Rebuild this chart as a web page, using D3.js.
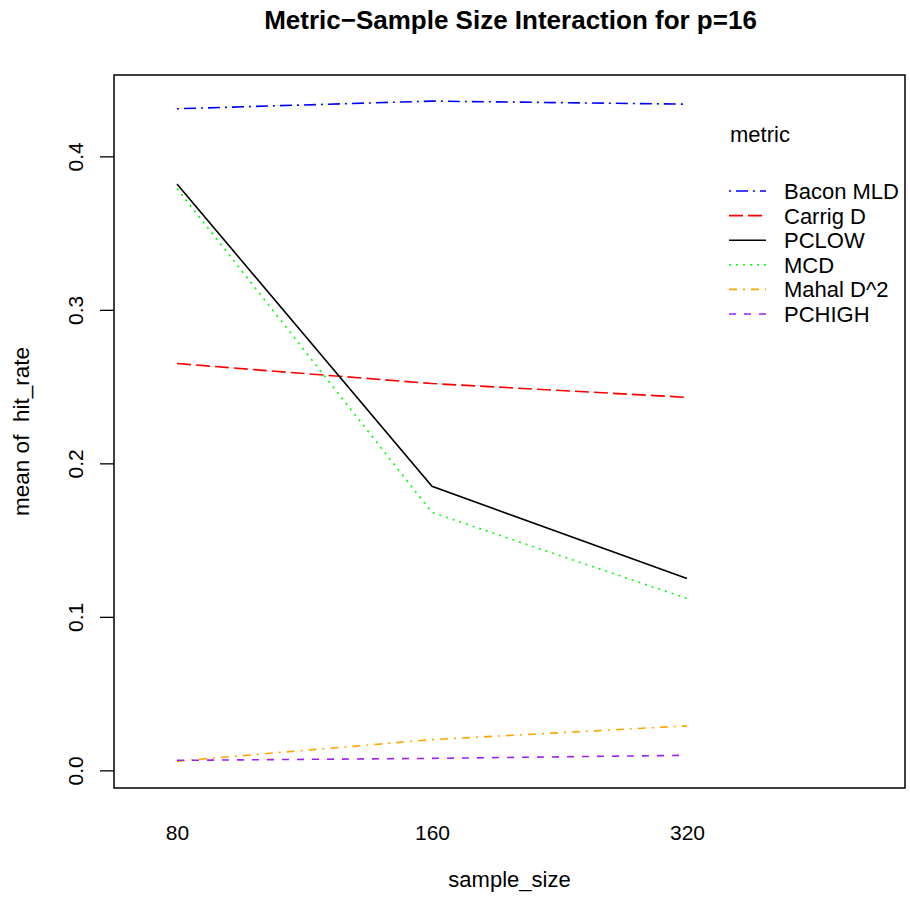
<!DOCTYPE html>
<html>
<head>
<meta charset="utf-8">
<script src="https://d3js.org/d3.v7.min.js"></script>
<style>
  body { margin: 0; background: #fff; }
  svg { display: block; font-family: "Liberation Sans", Arial, Helvetica, sans-serif; }
</style>
</head>
<body>
<svg id="chart" width="910" height="899"></svg>
<script>
// ---- data ----
const sampleSizes = ["80", "160", "320"];
const metrics = ["Bacon MLD", "Carrig D", "PCLOW", "MCD", "Mahal D^2", "PCHIGH"];
const baconMLD = [0.431, 0.436, 0.434];
const carrigD  = [0.265, 0.252, 0.243];
const pcLow    = [0.382, 0.185, 0.125];
const mcd      = [0.379, 0.168, 0.112];
const mahalD2  = [0.006, 0.020, 0.029];
const pcHigh   = [0.0065, 0.0078, 0.0098];
const yTicks   = [0.0, 0.1, 0.2, 0.3, 0.4];
const seriesValues = [baconMLD, carrigD, pcLow, mcd, mahalD2, pcHigh];
const colors = ["#0000FF", "#FF0000", "#000000", "#00FF00", "#FFA500", "#A020F0"];
const dashes = ["2,5,12,5", "14,5", null, "2,5", "8,6,2,6", "7,8"];

// ---- layout ----
const box = { left: 114, right: 905, top: 75, bottom: 788 };
const svg = d3.select("#chart");

const x = d3.scaleLinear().domain([0.753, 3.855]).range([box.left, box.right]);
const y = d3.scaleLinear().domain([-0.0115, 0.453]).range([box.bottom, box.top]);

// lines
const line = d3.line().x((d, i) => x(i + 1)).y(d => y(d));
const g = svg.append("g");
seriesValues.forEach((vals, k) => {
  g.append("path")
    .datum(vals)
    .attr("d", line)
    .attr("fill", "none")
    .attr("stroke", colors[k])
    .attr("stroke-width", 1.6)
    .attr("stroke-dasharray", dashes[k]);
});

// box
svg.append("rect")
  .attr("x", box.left).attr("y", box.top)
  .attr("width", box.right - box.left).attr("height", box.bottom - box.top)
  .attr("fill", "none").attr("stroke", "#000").attr("stroke-width", 1.5);

// y axis
const yAxis = svg.append("g")
  .attr("transform", `translate(${box.left},0)`)
  .call(d3.axisLeft(y).tickValues(yTicks).tickFormat(d3.format(".1f")).tickSize(14).tickPadding(0));
yAxis.select(".domain").remove();
yAxis.selectAll(".tick line").attr("stroke", "#000").attr("stroke-width", 1.3);
yAxis.selectAll(".tick text")
  .attr("transform", "rotate(-90)")
  .attr("x", 0).attr("y", -31.5).attr("dy", null)
  .attr("text-anchor", "middle")
  .attr("font-size", 21).attr("fill", "#000")
  .style("font-family", "Liberation Sans, Arial, sans-serif");

// x axis (labels only, no ticks)
const xAxis = svg.append("g")
  .attr("transform", `translate(0,${box.bottom})`)
  .call(d3.axisBottom(x).tickValues([1, 2, 3]).tickFormat((d) => sampleSizes[d - 1]).tickSize(0).tickPadding(0));
xAxis.select(".domain").remove();
xAxis.selectAll(".tick text")
  .attr("y", 52).attr("dy", null)
  .attr("font-size", 21).attr("fill", "#000")
  .style("font-family", "Liberation Sans, Arial, sans-serif");

// titles
svg.append("text")
  .attr("x", (box.left + box.right) / 2 + 1).attr("y", 29)
  .attr("text-anchor", "middle").attr("font-size", 26).attr("font-weight", "bold")
  .text("Metric\u2212Sample Size Interaction for p=16");

svg.append("text")
  .attr("x", (box.left + box.right) / 2).attr("y", 887)
  .attr("text-anchor", "middle").attr("font-size", 22)
  .text("sample_size");

svg.append("text")
  .attr("transform", `translate(29,${(box.top + box.bottom) / 2}) rotate(-90)`)
  .attr("text-anchor", "middle").attr("font-size", 22.5)
  .attr("xml:space", "preserve")
  .style("white-space", "pre")
  .text("mean of  hit_rate");

// legend
const legend = svg.append("g");
legend.append("text").attr("x", 730).attr("y", 142).attr("font-size", 22).text("metric");
metrics.forEach((m, k) => {
  const ly = 191 + k * 24.6;
  legend.append("line")
    .attr("x1", 729).attr("x2", 766).attr("y1", ly).attr("y2", ly)
    .attr("stroke", colors[k]).attr("stroke-width", 1.6)
    .attr("stroke-dasharray", dashes[k]);
  legend.append("text").attr("x", 784).attr("y", ly + 8).attr("font-size", 22).text(m);
});
</script>
</body>
</html>
